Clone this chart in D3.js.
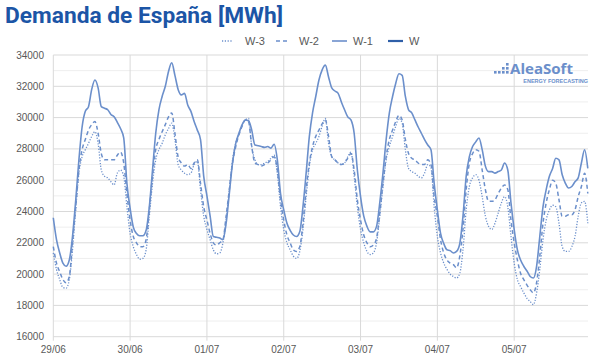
<!DOCTYPE html>
<html lang="es">
<head>
<meta charset="UTF-8">
<title>Demanda de España</title>
<script src="https://d3js.org/d3.v7.min.js"></script>
<style>
  body { margin: 0; background: #fff; }
  svg { display: block; font-family: "Liberation Sans", Arial, sans-serif; }
</style>
</head>
<body>
<svg id="chart" width="600" height="362"></svg>
<script>
// hourly demand, MWh, 7 days x 24 h
const dayLabels = ["29/06", "30/06", "01/07", "02/07", "03/07", "04/07", "05/07"];
const yTicks = [16000, 18000, 20000, 22000, 24000, 26000, 28000, 30000, 32000, 34000];

const w3 = [
  21350, 20300, 19650, 19150, 19100, 19650, 21550, 24100, 26450, 27500, 27950, 28350, 28800, 29100, 28350, 26650, 26250, 26150, 25900, 25700, 26450, 26650, 26250, 24300,
  22600, 21750, 21250, 20950, 21000, 21550, 23700, 25800, 27300, 27950, 28350, 28900, 29300, 29650, 28600, 27000, 26650, 26450, 26350, 26450, 27000, 27200, 25400, 23700,
  22850, 22200, 21550, 21300, 21350, 22000, 23450, 25400, 27300, 28350, 29000, 29550, 29850, 29950, 28150, 27300, 27000, 27000, 27100, 27200, 27400, 27600, 26450, 24300,
  22850, 22000, 21550, 21150, 21000, 21450, 22850, 24950, 26900, 27950, 28350, 28800, 29450, 29950, 28350, 27500, 27300, 27100, 27000, 27100, 27500, 27800, 26250, 24300,
  22850, 22000, 21450, 21250, 21350, 22000, 23700, 25600, 27300, 28150, 28800, 29450, 29950, 29650, 27950, 26750, 26550, 26450, 26250, 26150, 26450, 27000, 26800, 24300,
  22400, 21350, 20700, 20300, 20000, 19850, 19750, 20050, 21550, 24100, 25600, 26150, 26350, 26000, 24950, 23700, 23050, 22850, 23250, 23900, 24550, 24950, 24300, 22400,
  20700, 19650, 19200, 18800, 18450, 18250, 18050, 18800, 20300, 22200, 23450, 24100, 24400, 24300, 23250, 21750, 21450, 21450, 21750, 22400, 23700, 24550, 24650, 23250
];
const w2 = [
  21750, 20700, 20150, 19650, 19450, 19850, 22000, 24300, 26650, 27950, 28600, 29200, 29550, 29750, 29000, 27700, 27300, 27300, 27300, 27300, 27600, 27800, 27100, 25150,
  23450, 22400, 22000, 21750, 21750, 22200, 24100, 26250, 27950, 28600, 29100, 29550, 30050, 30300, 29000, 27500, 27100, 26900, 27000, 26750, 27100, 27300, 25800, 24300,
  23450, 22600, 22000, 21850, 22000, 22200, 23700, 25400, 27100, 28150, 28900, 29450, 29850, 29750, 28150, 27100, 27000, 26900, 27000, 27100, 27300, 27500, 26650, 24750,
  23450, 22500, 22000, 21550, 21450, 21750, 23250, 25400, 27100, 28150, 28800, 29200, 29600, 29850, 28800, 27500, 27300, 27100, 27000, 27100, 27400, 27700, 26650, 24750,
  23450, 22500, 22000, 21750, 21850, 22300, 23900, 25800, 27500, 28600, 29200, 29750, 30150, 29850, 28600, 27700, 27400, 27300, 27100, 27000, 27000, 27300, 27000, 24950,
  23700, 22200, 21350, 20900, 20700, 20600, 20400, 21150, 22850, 25400, 27100, 27700, 27950, 27850, 26650, 25400, 24650, 24650, 24750, 25150, 25500, 25700, 25400, 23450,
  22000, 20900, 20050, 19650, 19300, 19000, 18800, 19450, 21150, 23250, 24550, 25400, 26000, 25800, 24750, 23700, 23700, 23800, 23800, 24100, 24950, 25600, 26450, 25150
];
const w1 = [
  23600, 22200, 21350, 20700, 20500, 20900, 22400, 24700, 27300, 29400, 30400, 30700, 31800, 32400, 31900, 30700, 30600, 30500, 30200, 30050, 29700, 29300, 28700, 25800,
  24200, 23000, 22600, 22450, 22450, 22800, 24300, 26650, 29000, 30500, 31350, 32000, 32950, 33500, 32700, 31800, 31450, 31550, 30800, 30400, 29750, 29200, 28600, 26250,
  25000, 23700, 22400, 22350, 22300, 22200, 23250, 25150, 27100, 28350, 29000, 29550, 29850, 29800, 29200, 28250, 28200, 28150, 28100, 28150, 28050, 28300, 27300, 25150,
  24100, 23250, 22800, 22500, 22400, 22700, 24300, 26450, 28800, 30300, 31350, 32400, 33050, 33350, 32600, 31900, 31700, 31550, 31000, 30500, 30050, 29850, 29000, 26650,
  24950, 23700, 23050, 22700, 22700, 23050, 24550, 26450, 28600, 30300, 31350, 32200, 32800, 32700, 31350, 30500, 30300, 29850, 29400, 29000, 28600, 28250, 27950, 25800,
  24100, 22600, 21950, 21550, 21500, 21350, 21450, 21950, 23700, 26250, 27500, 28150, 28450, 28700, 27950, 26900, 26550, 26550, 26450, 26550, 26650, 27100, 26650, 24550,
  22850, 21550, 20900, 20500, 20200, 19850, 19750, 20500, 22400, 24300, 25400, 26250, 26750, 27400, 27300, 26350, 25800, 25500, 25600, 25900, 26150, 27100, 27950, 26750
];

const lineColor = "#6b8fcb";
const series = [
  { name: "W-3", values: w3, dash: "1.2,1.6", width: 1.3, color: lineColor },
  { name: "W-2", values: w2, dash: "4,3", width: 1.5, color: lineColor },
  { name: "W-1", values: w1, dash: null, width: 1.6, color: lineColor },
  { name: "W", values: [], dash: null, width: 2.2, color: "#2f5fa8" }
];

const svg = d3.select("#chart");
const plotLeft = 53.3, plotRight = 591, plotTop = 55, plotBottom = 336.7;

const x = d3.scaleLinear().domain([0, 168]).range([plotLeft, plotRight]);
const y = d3.scaleLinear().domain([16000, 34000]).range([plotBottom, plotTop]);

// title
svg.append("text")
  .attr("x", 5).attr("y", 23)
  .attr("font-family", "Roboto, 'Open Sans', sans-serif")
  .attr("font-weight", 700)
  .attr("font-size", 22)
  .attr("fill", "#1c55a6")
  .attr("textLength", 278)
  .attr("lengthAdjust", "spacingAndGlyphs")
  .text("Demanda de España [MWh]");

// minor grid
svg.append("g").selectAll("line")
  .data(d3.range(17000, 34000, 2000))
  .join("line")
  .attr("x1", plotLeft).attr("x2", 588)
  .attr("y1", d => y(d)).attr("y2", d => y(d))
  .attr("stroke", "#eeeeee").attr("stroke-width", 1);

// major grid
svg.append("g").selectAll("line")
  .data(yTicks)
  .join("line")
  .attr("x1", plotLeft).attr("x2", 588)
  .attr("y1", d => y(d)).attr("y2", d => y(d))
  .attr("stroke", "#d9d9d9").attr("stroke-width", 1);

// day grid
svg.append("g").selectAll("line")
  .data(d3.range(0, 168, 24))
  .join("line")
  .attr("x1", d => x(d)).attr("x2", d => x(d))
  .attr("y1", plotTop).attr("y2", plotBottom + 4)
  .attr("stroke", "#d9d9d9").attr("stroke-width", 1);

// y labels
svg.append("g").selectAll("text")
  .data(yTicks)
  .join("text")
  .attr("x", 44).attr("y", d => y(d) + 3.5)
  .attr("text-anchor", "end")
  .attr("font-size", 10)
  .attr("fill", "#595959")
  .text(d => d);

// x labels
svg.append("g").selectAll("text")
  .data(dayLabels)
  .join("text")
  .attr("x", (d, i) => x(i * 24)).attr("y", 353)
  .attr("text-anchor", "middle")
  .attr("font-size", 10)
  .attr("fill", "#595959")
  .text(d => d);

// logo
const logo = svg.append("g");
[[494, 71], [498, 71], [502, 71], [502, 67], [506, 71], [506, 67], [506, 63]].forEach(p => {
  logo.append("rect").attr("x", p[0]).attr("y", p[1]).attr("width", 2.6).attr("height", 2.6)
    .attr("fill", lineColor);
});
logo.append("text")
  .attr("x", 510).attr("y", 74)
  .attr("font-family", "'Open Sans', sans-serif")
  .attr("font-weight", 700).attr("font-size", 14.5)
  .attr("fill", lineColor)
  .attr("textLength", 63).attr("lengthAdjust", "spacingAndGlyphs")
  .text("AleaSoft");
logo.append("text")
  .attr("x", 588).attr("y", 82.5)
  .attr("text-anchor", "end")
  .attr("font-weight", 700).attr("font-size", 5.5)
  .attr("fill", lineColor)
  .text("ENERGY FORECASTING");

// lines
const line = d3.line()
  .x((d, i) => x(i))
  .y(d => y(d))
  .curve(d3.curveMonotoneX);

svg.append("g").selectAll("path")
  .data(series.filter(s => s.values.length))
  .join("path")
  .attr("d", s => line(s.values))
  .attr("fill", "none")
  .attr("stroke", s => s.color)
  .attr("stroke-width", s => s.width)
  .attr("stroke-dasharray", s => s.dash)
  .attr("stroke-linejoin", "round");

// legend
const legendX = [222, 276, 332, 388];
const legend = svg.append("g").selectAll("g")
  .data(series)
  .join("g")
  .attr("transform", (d, i) => `translate(${legendX[i]},41)`);
legend.append("line")
  .attr("x1", 0).attr("x2", (d, i) => i < 2 ? 11 : 15)
  .attr("stroke", d => d.color)
  .attr("stroke-width", d => d.width)
  .attr("stroke-dasharray", d => d.dash);
legend.append("text")
  .attr("x", (d, i) => i < 2 ? 23 : 21).attr("y", 4)
  .attr("font-size", 11)
  .attr("fill", "#595959")
  .text(d => d.name);
</script>
</body>
</html>
